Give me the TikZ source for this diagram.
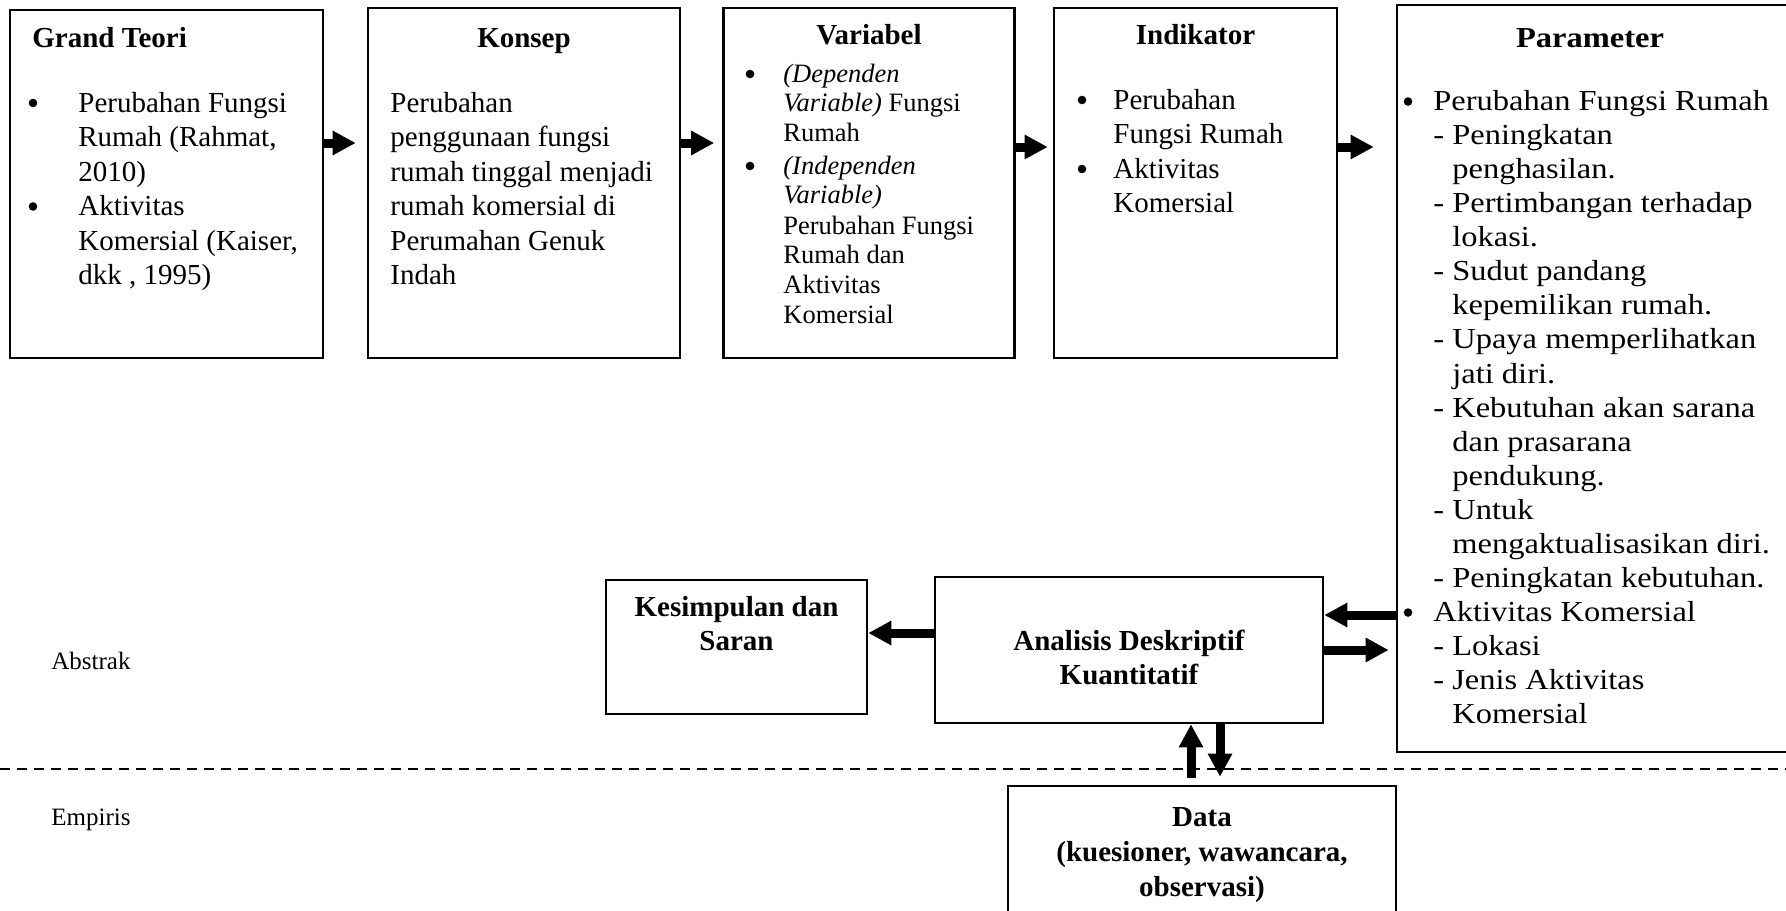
\documentclass[tikz,border=0pt]{standalone}
\usepackage{fontspec}
\setmainfont{Liberation Serif}
\newfontfamily\widefont[FakeStretch=1.12]{Liberation Serif}
\usetikzlibrary{arrows.meta}
\newcommand\fA{\fontsize{14.5pt}{17pt}\selectfont}
\newcommand\fB{\fontsize{13.25pt}{15pt}\selectfont}
\newcommand\fC{\fontsize{12.5pt}{15pt}\selectfont}
\begin{document}
\begin{tikzpicture}[x=0.5pt,y=-0.5pt,
  box/.style={draw, line width=1.3pt, inner sep=0pt, rectangle},
  txt/.style={anchor=base west, inner sep=0pt, font=\fA},
  vtxt/.style={anchor=base west, inner sep=0pt, font=\fB},
  ptxt/.style={anchor=base west, inner sep=0pt, font=\widefont\fA},
  ttl/.style={anchor=base, inner sep=0pt, font=\fA\bfseries},
  bul/.style={circle, fill, inner sep=0pt, minimum size=4.3pt},
  lbl/.style={anchor=base west, inner sep=0pt, font=\fC},
  arr/.style={line width=4.5pt, -{Triangle[length=11.5pt,width=11.5pt]}},
  dashline/.style={line width=0.8pt, dash pattern=on 5pt off 3.5pt}]

\useasboundingbox (0,0) rectangle (1786,910);

% boxes
\node[box, minimum width=156.5pt, minimum height=174pt] (gt) at (166.5,184) {};
\node[box, minimum width=156pt, minimum height=175pt] (konsep) at (524,183) {};
\node[box, minimum width=145.5pt, minimum height=175pt] (var) at (869,183) {};
\node[box, minimum width=141.5pt, minimum height=175pt] (ind) at (1195.5,183) {};
\node[box, minimum width=197.5pt, minimum height=373.5pt] (par) at (1594.5,378.5) {};
\node[box, minimum width=130.5pt, minimum height=67pt] (kes) at (736.5,647) {};
\node[box, minimum width=194pt, minimum height=73pt] (ana) at (1129,650) {};
\node[box, minimum width=194pt, minimum height=72pt] (data) at (1202,858) {};

% Grand Teori
\node[ttl, anchor=base west] (gtt) at (32,47) {Grand Teori};
\node[bul] (gtb1) at (33,112-9) {};
\node[bul] (gtb2) at (33,215.5-9) {};
\foreach \t [count=\i from 0] in {Perubahan Fungsi, {Rumah (Rahmat,}, 2010), Aktivitas, {Komersial (Kaiser,}, {dkk , 1995)}}
  \node[txt] (gtl\i) at (78,112+34.5*\i) {\t};

% Konsep
\node[ttl] (kt) at (524,47) {Konsep};
\foreach \t [count=\i from 0] in {Perubahan, penggunaan fungsi, rumah tinggal menjadi, rumah komersial di, Perumahan Genuk, Indah}
  \node[txt] (kl\i) at (390,112+34.5*\i) {\t};

% Variabel
\node[ttl] (vt) at (869,44) {Variabel};
\node[bul] (vb1) at (750,82-8) {};
\node[bul] (vb2) at (750,174-8) {};
\node[vtxt] (vl0) at (783,82) {\itshape (Dependen};
\node[vtxt] (vl1) at (783,111.5) {\textit{Variable)} Fungsi};
\node[vtxt] (vl2) at (783,141) {Rumah};
\node[vtxt] (vl3) at (783,174) {\itshape (Independen};
\node[vtxt] (vl4) at (783,203) {\itshape Variable)};
\node[vtxt] (vl5) at (783,234) {Perubahan Fungsi};
\node[vtxt] (vl6) at (783,263.5) {Rumah dan};
\node[vtxt] (vl7) at (783,293.5) {Aktivitas};
\node[vtxt] (vl8) at (783,323.5) {Komersial};

% Indikator
\node[ttl] (it) at (1195.5,44) {Indikator};
\node[bul] (ib1) at (1082,109-9) {};
\node[bul] (ib2) at (1082,178-9) {};
\foreach \t [count=\i from 0] in {Perubahan, Fungsi Rumah, Aktivitas, Komersial}
  \node[txt] (il\i) at (1113,109+34.5*\i) {\t};

% Parameter
\node[ttl, font=\widefont\fA\bfseries] (pt) at (1590,47) {Parameter};
\node[bul] (pb1) at (1408,110.5-9) {};
\node[bul] (pb2) at (1408,110.5+34.07*15-9) {};
\foreach \t [count=\i from 0] in {Perubahan Fungsi Rumah, - Peningkatan, \hphantom{-\ }penghasilan., - Pertimbangan terhadap, \hphantom{-\ }lokasi., - Sudut pandang, \hphantom{-\ }kepemilikan rumah., - Upaya memperlihatkan, \hphantom{-\ }jati diri., - Kebutuhan akan sarana, \hphantom{-\ }dan prasarana, \hphantom{-\ }pendukung., - Untuk, \hphantom{-\ }mengaktualisasikan diri., - Peningkatan kebutuhan., Aktivitas Komersial, - Lokasi, - Jenis Aktivitas, \hphantom{-\ }Komersial}
  \node[ptxt] (pl\i) at (1433,110.5+34.07*\i) {\t};

% lower boxes text
\node[ttl] (kes1) at (736.5,616) {Kesimpulan dan};
\node[ttl] (kes2) at (736.5,650) {Saran};
\node[ttl] (ana1) at (1129,650) {Analisis Deskriptif};
\node[ttl] (ana2) at (1129,684) {Kuantitatif};
\node[ttl] (d1) at (1202,826) {Data};
\node[ttl] (d2) at (1202,861) {(kuesioner, wawancara,};
\node[ttl] (d3) at (1202,896) {observasi)};

% side labels
\node[lbl] (abs) at (51,669) {Abstrak};
\node[lbl] (emp) at (51,825) {Empiris};

% dashed separator
\coordinate (dl1) at (0,769);
\coordinate (dl2) at (1786,769);
\draw[dashline] (dl1) -- (dl2);

% arrow levels
\coordinate (ya) at (0,143);
\coordinate (yb) at (0,147);
\coordinate (yc) at (0,633);
\coordinate (yd) at (0,615);
\coordinate (ye) at (0,650);
\coordinate (xu) at (1191,0);
\coordinate (xd) at (1220,0);

\draw[arr, shorten >=5.5pt] (gt.east |- ya) -- (konsep.west |- ya);
\draw[arr, shorten >=4pt] (konsep.east |- ya) -- (var.west |- ya);
\draw[arr, shorten >=2.5pt] (var.east |- yb) -- (ind.west |- yb);
\draw[arr, shorten >=11pt] (ind.east |- yb) -- (par.west |- yb);
\draw[arr] (ana.west |- yc) -- (kes.east |- yc);
\draw[arr] (par.west |- yd) -- (ana.east |- yd);
\draw[arr, shorten >=3.5pt] (ana.east |- ye) -- (par.west |- ye);
\draw[arr, shorten <=3.5pt] (data.north -| xu) -- (ana.south -| xu);
\draw[arr, shorten >=4pt] (ana.south -| xd) -- (data.north -| xd);
\end{tikzpicture}
\end{document}
